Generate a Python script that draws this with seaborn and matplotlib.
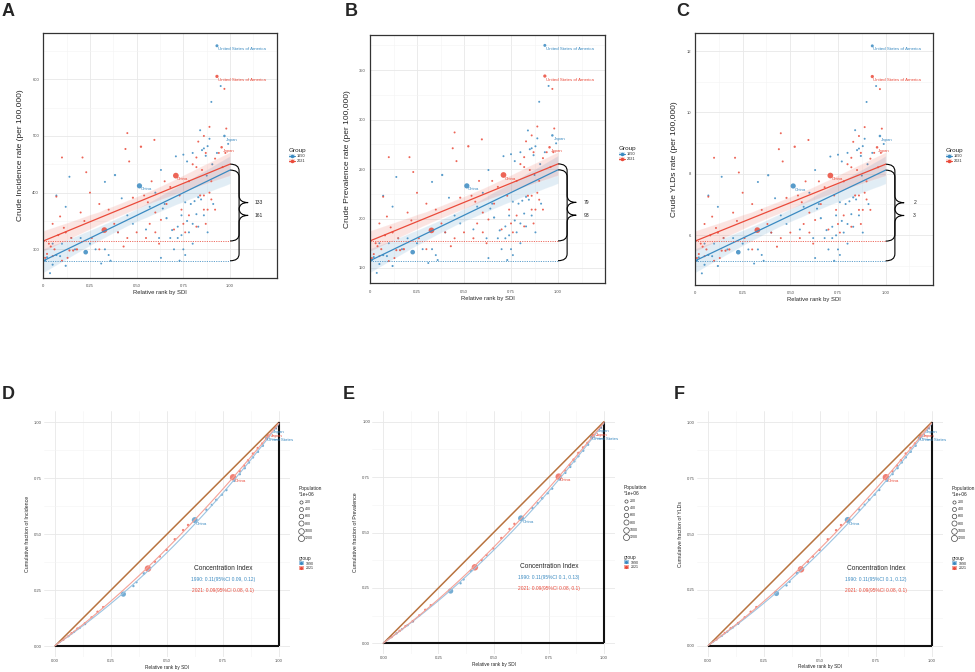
import numpy as np
import pandas as pd
import seaborn as sns
import matplotlib.pyplot as plt
from matplotlib.lines import Line2D
from matplotlib.patches import Patch, PathPatch
from matplotlib.path import Path

# ---------------- data: panels A-C (countries ranked by SDI) ----------------
x_1990 = [0.93, 0.95, 0.97, 0.99, 0.515, 0.227, 0.384, 0.33, 0.14, 0.12,
          0.05, 0.036, 0.01, 0.02, 0.07, 0.09, 0.07, 0.33, 0.35, 0.36,
          0.31, 0.63, 0.66, 0.69, 0.73, 0.74, 0.72, 0.76, 0.79, 0.81,
          0.82, 0.83, 0.845, 0.71, 0.75, 0.77, 0.80, 0.85, 0.86, 0.87,
          0.88, 0.89, 0.84, 0.905, 0.60, 0.64, 0.68, 0.77, 0.80, 0.875,
          0.57, 0.45, 0.25, 0.17, 0.90, 0.63, 0.93, 0.05, 0.10, 0.15,
          0.20, 0.28, 0.40, 0.48, 0.55, 0.62, 0.70, 0.74, 0.78, 0.65,
          0.12, 0.42, 0.75, 0.80, 0.83, 0.86, 0.88, 0.91, 0.76, 0.72]
pop_1990 = [250, 5, 123, 8, 1150, 870, 60, 10, 5, 30,
            25, 5, 20, 10, 40, 15, 3, 10, 4, 15,
            3, 5, 50, 20, 20, 5, 5, 10, 8, 10,
            6, 45, 5, 5, 5, 10, 5, 15, 5, 20,
            10, 5, 3, 20, 10, 5, 3, 15, 5, 3,
            8, 5, 5, 5, 3, 4, 5, 3, 5, 3,
            4, 3, 5, 4, 5, 3, 4, 5, 4, 3,
            2, 3, 3, 4, 3, 4, 3, 5, 3, 3]
inc_1990 = [659, 588, 500, 486, 412, 295, 431, 419, 428, 271,
            273, 258, 280, 286, 290, 288, 395, 300, 290, 280,
            275, 285, 355, 334, 280, 325, 340, 383, 380, 385,
            362, 392, 388, 464, 467, 455, 470, 475, 478, 465,
            482, 495, 510, 450, 400, 372, 320, 350, 345, 430,
            375, 360, 310, 300, 560, 440, 470, 310, 310, 320,
            320, 300, 330, 345, 335, 320, 300, 360, 330, 380,
            375, 390, 300, 310, 340, 360, 330, 380, 290, 320]
prev_1990 = [375, 334, 284, 276, 233, 166, 244, 237, 242, 152,
             154, 145, 158, 161, 163, 162, 223, 169, 163, 158,
             155, 160, 201, 188, 158, 183, 192, 217, 215, 218,
             205, 222, 219, 263, 265, 258, 267, 270, 271, 264,
             273, 281, 289, 255, 226, 210, 180, 198, 195, 244,
             212, 203, 175, 169, 318, 249, 267, 175, 175, 180,
             180, 169, 186, 195, 189, 180, 169, 203, 186, 215,
             212, 221, 169, 175, 192, 203, 186, 215, 163, 180]
yld_1990 = [12.17, 10.86, 9.23, 8.97, 7.60, 5.44, 7.95, 7.73, 7.90, 4.99,
            5.03, 4.75, 5.16, 5.27, 5.35, 5.31, 7.29, 5.53, 5.35, 5.16,
            5.07, 5.25, 6.55, 6.16, 5.16, 5.99, 6.27, 7.07, 7.01, 7.10,
            6.68, 7.23, 7.16, 8.56, 8.62, 8.40, 8.68, 8.77, 8.82, 8.58,
            8.90, 9.14, 9.42, 8.31, 7.38, 6.86, 5.90, 6.46, 6.36, 7.94,
            6.92, 6.64, 5.72, 5.53, 10.34, 8.12, 8.68, 5.72, 5.72, 5.90,
            5.90, 5.53, 6.08, 6.36, 6.18, 5.90, 5.53, 6.64, 6.08, 7.01,
            6.92, 7.20, 5.53, 5.72, 6.27, 6.64, 6.08, 7.01, 5.35, 5.90]

x_2021 = [0.93, 0.97, 0.89, 0.98, 0.955, 0.975, 0.71, 0.327, 0.523, 0.595,
          0.45, 0.44, 0.46, 0.21, 0.10, 0.23, 0.48, 0.56, 0.54, 0.60,
          0.63, 0.43, 0.16, 0.18, 0.14, 0.12, 0.08, 0.01, 0.02, 0.04,
          0.06, 0.07, 0.09, 0.11, 0.20, 0.22, 0.55, 0.57, 0.62, 0.80,
          0.82, 0.84, 0.86, 0.85, 0.87, 0.88, 0.90, 0.87, 0.78, 0.82,
          0.86, 0.83, 0.92, 0.94, 0.30, 0.35, 0.38, 0.26, 0.66, 0.68,
          0.74, 0.76, 0.03, 0.05, 0.25, 0.50, 0.65, 0.90, 0.13, 0.40,
          0.58, 0.96, 0.70, 0.78, 0.82, 0.86, 0.89, 0.73, 0.05, 0.15,
          0.10, 0.30, 0.45, 0.60, 0.75, 0.92]
pop_2021 = [335, 5, 5, 10, 125, 8, 1420, 1400, 80, 20,
            3, 15, 10, 10, 5, 4, 40, 10, 5, 10,
            8, 20, 50, 60, 30, 50, 20, 10, 15, 25,
            30, 5, 5, 5, 5, 5, 10, 5, 5, 20,
            10, 30, 10, 5, 15, 10, 5, 5, 5, 8,
            5, 5, 15, 5, 5, 5, 5, 5, 5, 5,
            5, 3, 5, 5, 3, 5, 3, 5, 5, 3,
            3, 5, 3, 4, 3, 3, 5, 3, 3, 4,
            3, 3, 3, 3, 3, 3]
inc_2021 = [605, 583, 516, 513, 480, 470, 430, 334, 481, 493,
            505, 477, 455, 462, 462, 436, 391, 383, 395, 365,
            352, 305, 298, 300, 298, 330, 325, 285, 292, 305,
            300, 393, 358, 338, 365, 350, 320, 345, 310, 450,
            462, 395, 395, 440, 470, 370, 388, 345, 420, 445,
            500, 490, 460, 470, 380, 370, 345, 320, 380, 410,
            370, 330, 310, 288, 400, 330, 420, 420, 285, 330,
            420, 445, 335, 360, 340, 370, 400, 395, 345, 320,
            280, 300, 320, 330, 345, 370]
prev_2021 = [344, 331, 293, 291, 272, 267, 244, 188, 273, 280,
             287, 271, 258, 262, 262, 247, 221, 217, 223, 206,
             199, 172, 168, 169, 168, 186, 183, 160, 164, 172,
             169, 222, 202, 191, 206, 198, 180, 195, 175, 255,
             262, 223, 223, 249, 267, 209, 219, 195, 238, 252,
             284, 278, 261, 267, 215, 209, 195, 180, 215, 232,
             209, 186, 175, 162, 226, 186, 238, 238, 160, 186,
             238, 252, 189, 203, 192, 209, 226, 223, 195, 180,
             157, 169, 180, 186, 195, 209]
yld_2021 = [11.17, 10.76, 9.52, 9.47, 8.86, 8.68, 7.94, 6.16, 8.88, 9.10,
            9.32, 8.80, 8.40, 8.52, 8.52, 8.04, 7.21, 7.07, 7.29, 6.73,
            6.49, 5.62, 5.49, 5.53, 5.49, 6.08, 5.99, 5.25, 5.38, 5.62,
            5.53, 7.25, 6.60, 6.23, 6.73, 6.46, 5.90, 6.36, 5.72, 8.31,
            8.52, 7.29, 7.29, 8.12, 8.68, 6.82, 7.16, 6.36, 7.75, 8.21,
            9.23, 9.04, 8.49, 8.68, 7.01, 6.82, 6.36, 5.90, 7.01, 7.56,
            6.82, 6.08, 5.72, 5.31, 7.38, 6.08, 7.75, 7.75, 5.25, 6.08,
            7.75, 8.21, 6.18, 6.64, 6.27, 6.82, 7.38, 7.29, 6.36, 5.90,
            5.16, 5.53, 5.90, 6.08, 6.36, 6.82]

gap_1990 = [161, 93, 3]
gap_2021 = [133, 79, 2]

# ---------------- data: panels D-F (concentration curves) ----------------
lz_x_1990 = [0.022, 0.06, 0.085, 0.11, 0.134, 0.305, 0.35, 0.364, 0.397, 0.624,
             0.676, 0.70, 0.72, 0.745, 0.765, 0.80, 0.825, 0.847, 0.866, 0.884,
             0.906, 0.928, 0.945, 0.985]
lz_pop_1990 = [20, 25, 15, 30, 25, 870, 30, 10, 100, 1150,
               40, 20, 60, 20, 50, 30, 25, 50, 20, 30,
               40, 30, 250, 123]
lz_inc_1990 = [0.019, 0.044, 0.063, 0.081, 0.098, 0.232, 0.268, 0.285, 0.324, 0.563,
               0.609, 0.631, 0.653, 0.676, 0.697, 0.738, 0.768, 0.795, 0.820, 0.843,
               0.868, 0.895, 0.928, 0.975]
lz_prev_1990 = [0.019, 0.045, 0.064, 0.082, 0.099, 0.236, 0.271, 0.288, 0.327, 0.564,
                0.610, 0.632, 0.654, 0.677, 0.698, 0.739, 0.769, 0.796, 0.821, 0.844,
                0.869, 0.896, 0.929, 0.975]
lz_yld_1990 = [0.019, 0.044, 0.063, 0.082, 0.099, 0.234, 0.270, 0.286, 0.325, 0.563,
               0.609, 0.631, 0.653, 0.676, 0.697, 0.738, 0.768, 0.795, 0.820, 0.843,
               0.868, 0.895, 0.928, 0.975]

lz_x_2021 = [0.037, 0.074, 0.10, 0.134, 0.163, 0.19, 0.215, 0.415, 0.446, 0.468,
             0.498, 0.535, 0.572, 0.594, 0.795, 0.825, 0.845, 0.862, 0.884, 0.905,
             0.925, 0.952, 0.985]
lz_pop_2021 = [30, 40, 20, 60, 30, 40, 20, 1400, 50, 30,
               40, 60, 40, 30, 1420, 60, 30, 40, 50, 30,
               40, 335, 125]
lz_inc_2021 = [0.028, 0.057, 0.078, 0.101, 0.128, 0.153, 0.174, 0.346, 0.377, 0.400,
               0.430, 0.477, 0.518, 0.541, 0.754, 0.781, 0.806, 0.830, 0.860, 0.885,
               0.905, 0.938, 0.976]
lz_prev_2021 = [0.028, 0.056, 0.077, 0.100, 0.126, 0.151, 0.172, 0.343, 0.375, 0.398,
                0.428, 0.475, 0.516, 0.539, 0.752, 0.779, 0.805, 0.829, 0.859, 0.884,
                0.904, 0.937, 0.976]
lz_yld_2021 = [0.028, 0.057, 0.078, 0.101, 0.127, 0.152, 0.173, 0.342, 0.376, 0.399,
               0.429, 0.476, 0.517, 0.540, 0.754, 0.780, 0.806, 0.830, 0.860, 0.885,
               0.905, 0.938, 0.976]

ci_1990 = ["1990: 0.11(95%CI 0.09, 0.12)", "1990: 0.11(95%CI 0.1, 0.13)", "1990: 0.11(95%CI 0.1, 0.12)"]
ci_2021 = ["2021: 0.09(95%CI 0.08, 0.1)", "2021: 0.09(95%CI 0.08, 0.1)", "2021: 0.09(95%CI 0.08, 0.1)"]
pop_legend = [200, 400, 600, 800, 1000, 1200]

BLUE = "#3A8AC1"
RED = "#EA4A3A"
BLUE_L = "#9CC4E1"
RED_L = "#F4A298"
BROWN = "#B8733F"

sns.set_theme(style="white")
plt.rcParams['font.family'] = ['Liberation Sans', 'DejaVu Sans']

W, H = 975, 672
fig = plt.figure(figsize=(W / 100, H / 100), dpi=100)


def add_ax(l, t, r, b):
    return fig.add_axes([l / W, 1 - b / H, (r - l) / W, (b - t) / H])


def brace(ax, x0, y0, y1, w, r):
    xm = x0 + w / 2
    ym = (y0 + y1) / 2
    verts = [(x0, y0), (xm, y0), (xm, y0 + r), (xm, ym - r), (xm, ym), (x0 + w, ym),
             (xm, ym), (xm, ym + r), (xm, y1 - r), (xm, y1), (x0, y1)]
    codes = [Path.MOVETO, Path.CURVE3, Path.CURVE3, Path.LINETO, Path.CURVE3, Path.CURVE3,
             Path.CURVE3, Path.CURVE3, Path.LINETO, Path.CURVE3, Path.CURVE3]
    ax.add_patch(PathPatch(Path(verts, codes), fill=False, lw=0.8, edgecolor="black", clip_on=False))


def scatter_panel(ax, y90, y21, yticks, yminor, ylim, ylabel, g90, g21):
    ax.set_xlim(0, 1)
    fits = []
    series = ((x_1990, y90, pop_1990, BLUE, (0, 2, 4)), (x_2021, y21, pop_2021, RED, (0, 4, 6)))
    for x, y, pop, col, lab in series:
        df = pd.DataFrame({"rank": x, "rate": y, "pop": pop})
        sns.scatterplot(data=df, x="rank", y="rate", size="pop", sizes=(2.0, 17), size_norm=(0, 1420),
                        color=col, linewidth=0, alpha=0.85, legend=False, ax=ax)
        sns.regplot(data=df, x="rank", y="rate", scatter=False, truncate=False, ci=90, seed=3,
                    color=col, line_kws={"lw": 0.9}, ax=ax)
        fits.append(np.polyfit(x, y, 1))
        for i, name in zip(lab, ("United States of America", "Japan", "China")):
            ax.annotate(name, (x[i], y[i]), xytext=(0.8, -2.6), textcoords="offset points",
                        fontsize=3.2, color=col, ha="left", va="center")
    r = 0.028 * (ylim[1] - ylim[0])
    for (slope, icpt), col, g in zip(fits, (BLUE, RED), (g90, g21)):
        ax.plot([0, 1], [icpt, icpt], color=col, lw=0.7, ls=(0, (1.2, 1.2)), alpha=0.8)
        brace(ax, 1.0, icpt, icpt + slope, 0.097, r)
        ax.text(1.152, icpt + slope / 2, str(g), fontsize=3.6, ha="center", va="center")
    ax.set_xlim(0, 1.25)
    ax.set_ylim(*ylim)
    ax.set_xticks([0, 0.25, 0.5, 0.75, 1.0])
    ax.set_xticklabels(["0", "0.25", "0.50", "0.75", "1.00"])
    ax.set_xticks([0.125, 0.375, 0.625, 0.875, 1.125], minor=True)
    ax.set_yticks(yticks)
    ax.set_yticks(yminor, minor=True)
    ax.grid(which="major", color="#E8E8E8", lw=0.6)
    ax.grid(which="minor", color="#F3F3F3", lw=0.4)
    ax.tick_params(which="both", length=0, labelsize=3.0, colors="#4D4D4D")
    ax.tick_params(axis="x", pad=4.5)
    ax.tick_params(axis="y", pad=3)
    for s in ax.spines.values():
        s.set_color("#333333")
        s.set_linewidth(0.9)
    ax.set_xlabel("Relative rank by SDI", fontsize=4.2, labelpad=1.5)
    ax.set_ylabel(ylabel, fontsize=6.0, labelpad=6)


def lorenz_panel(ax, y90, y21, ylabel, t90, t21):
    ax.plot([0, 1], [0, 1], color=BROWN, lw=1.1)
    ax.plot([0, 1], [0, 0], color="#111111", lw=1.5, solid_capstyle="butt")
    ax.plot([1, 1], [0, 1], color="#111111", lw=1.5, solid_capstyle="butt")
    series = ((lz_x_1990, y90, lz_pop_1990, BLUE, BLUE_L), (lz_x_2021, y21, lz_pop_2021, RED, RED_L))
    for x, y, pop, col, light in series:
        curve = pd.DataFrame({"x": np.r_[0, x, 1], "y": np.r_[0, y, 1]})
        sns.regplot(data=curve, x="x", y="y", order=3, scatter=False, ci=None,
                    color=light, line_kws={"lw": 0.8}, ax=ax)
        df = pd.DataFrame({"x": x, "y": y, "pop": pop})
        sns.scatterplot(data=df, x="x", y="y", size="pop", sizes=(2.5, 22), size_norm=(0, 1420),
                        color=col, linewidth=0, alpha=0.7, legend=False, ax=ax)
    i90 = lz_pop_1990.index(1150)
    i21 = lz_pop_2021.index(1420)
    ax.annotate("China", (lz_x_1990[i90], y90[i90]), xytext=(1, -2.6), textcoords="offset points",
                fontsize=3.2, color=BLUE, va="center")
    ax.annotate("China", (lz_x_2021[i21], y21[i21]), xytext=(1, -2.6), textcoords="offset points",
                fontsize=3.2, color=RED, va="center")
    ax.annotate("Japan", (lz_x_1990[-1], y90[-1]), xytext=(0.973, 0.958), fontsize=3.2, color=BLUE,
                va="center", arrowprops=dict(arrowstyle="-", lw=0.3, color=BLUE))
    ax.annotate("Japan", (lz_x_2021[-2], y21[-2]), xytext=(0.962, 0.94), fontsize=3.2, color=RED,
                va="center", arrowprops=dict(arrowstyle="-", lw=0.3, color=RED))
    ax.annotate("United States", (lz_x_1990[-2], y90[-2]), xytext=(0.948, 0.921), fontsize=3.2,
                color=BLUE, va="center", arrowprops=dict(arrowstyle="-", lw=0.3, color=BLUE))
    ax.text(0.75, 0.347, "Concentration Index", fontsize=4.7, ha="center", va="center")
    ax.text(0.75, 0.298, t90, fontsize=3.5, color=BLUE, ha="center", va="center")
    ax.text(0.75, 0.247, t21, fontsize=3.5, color=RED, ha="center", va="center")
    ax.set_xlim(-0.05, 1.05)
    ax.set_ylim(-0.05, 1.05)
    ticks = [0, 0.25, 0.5, 0.75, 1.0]
    minor = [0.125, 0.375, 0.625, 0.875]
    ax.set_xticks(ticks)
    ax.set_yticks(ticks)
    ax.set_xticklabels(["0.00", "0.25", "0.50", "0.75", "1.00"])
    ax.set_yticklabels(["0.00", "0.25", "0.50", "0.75", "1.00"])
    ax.set_xticks(minor, minor=True)
    ax.set_yticks(minor, minor=True)
    ax.grid(which="major", color="#E8E8E8", lw=0.6)
    ax.grid(which="minor", color="#F3F3F3", lw=0.4)
    ax.tick_params(which="both", length=0, labelsize=3.0, colors="#4D4D4D", pad=1.5)
    for s in ax.spines.values():
        s.set_visible(False)
    ax.set_xlabel("Relative rank by SDI", fontsize=3.4, labelpad=1.0)
    ax.set_ylabel(ylabel, fontsize=3.8, labelpad=3)


def scatter_legend(x, y):
    h = [(Patch(facecolor=c, alpha=0.2, edgecolor="none"),
          Line2D([], [], color=c, lw=0.8, marker="o", ms=1.5)) for c in (BLUE, RED)]
    fig.legend(h, ["1990", "2021"], title="Group", loc="upper left",
               bbox_to_anchor=(x / W, 1 - y / H), frameon=False, fontsize=2.8,
               title_fontsize=4.6, handlelength=1.6, handleheight=1.0, labelspacing=0.3,
               borderpad=0, handletextpad=0.5, alignment="left")


def lorenz_legend(x, y):
    hp = [Line2D([], [], ls="none", marker="o", mfc="none", mec="#444444", mew=0.5,
                 ms=np.sqrt(2.5 + 19.5 * p / 1420)) for p in pop_legend]
    fig.legend(hp, [str(p) for p in pop_legend], title="Population\n*1e+06", loc="upper left",
               bbox_to_anchor=(x / W, 1 - y / H), frameon=False, fontsize=2.6,
               title_fontsize=3.5, handlelength=1.0, labelspacing=0.9, borderpad=0,
               handletextpad=0.6, alignment="left")
    hg = [(Patch(facecolor=l, edgecolor="none"),
           Line2D([], [], ls="none", marker="o", color=c, ms=1.2)) for c, l in ((BLUE, BLUE_L), (RED, RED_L))]
    fig.legend(hg, ["1990", "2021"], title="group", loc="upper left",
               bbox_to_anchor=(x / W, 1 - (y + 70) / H), frameon=False, fontsize=2.6,
               title_fontsize=3.5, handlelength=1.4, handleheight=1.3, labelspacing=0.15,
               borderpad=0, handletextpad=0.5, alignment="left")


ax_a = add_ax(43.3, 33.3, 276.7, 277.7)
ax_b = add_ax(370, 35, 605, 283.3)
ax_c = add_ax(695, 33.3, 933.3, 285)
scatter_panel(ax_a, inc_1990, inc_2021, [300, 400, 500, 600], [250, 350, 450, 550, 650],
              (250, 681), "Crude Incidence rate (per 100,000)", gap_1990[0], gap_2021[0])
scatter_panel(ax_b, prev_1990, prev_2021, [150, 200, 250, 300, 350], [175, 225, 275, 325, 375],
              (134.5, 385.5), "Crude Prevalence rate (per 100,000)", gap_1990[1], gap_2021[1])
scatter_panel(ax_c, yld_1990, yld_2021, [6, 8, 10, 12], [5, 7, 9, 11],
              (4.37, 12.58), "Crude YLDs rate (per 100,000)", gap_1990[2], gap_2021[2])

ax_d = add_ax(43.8, 411.1, 290.2, 657.2)
ax_e = add_ax(372.3, 410.6, 615.0, 654.4)
ax_f = add_ax(697.1, 411.1, 942.9, 656.9)
lorenz_panel(ax_d, lz_inc_1990, lz_inc_2021, "Cumulative fraction of Incidence", ci_1990[0], ci_2021[0])
lorenz_panel(ax_e, lz_prev_1990, lz_prev_2021, "Cumulative fraction of Prevalence", ci_1990[1], ci_2021[1])
lorenz_panel(ax_f, lz_yld_1990, lz_yld_2021, "Cumulative fraction of YLDs", ci_1990[2], ci_2021[2])

scatter_legend(287, 146)
scatter_legend(617, 144)
scatter_legend(944, 146)
lorenz_legend(297, 484)
lorenz_legend(622, 483)
lorenz_legend(950, 484)

for letter, (px, py) in zip("ABCDEF", [(2, 3), (345, 3), (676, 3), (2, 386), (343, 386), (674, 386)]):
    fig.text(px / W, 1 - py / H, letter, fontsize=13, fontweight="bold", ha="left", va="top")

fig.savefig("out.png", dpi=100)
